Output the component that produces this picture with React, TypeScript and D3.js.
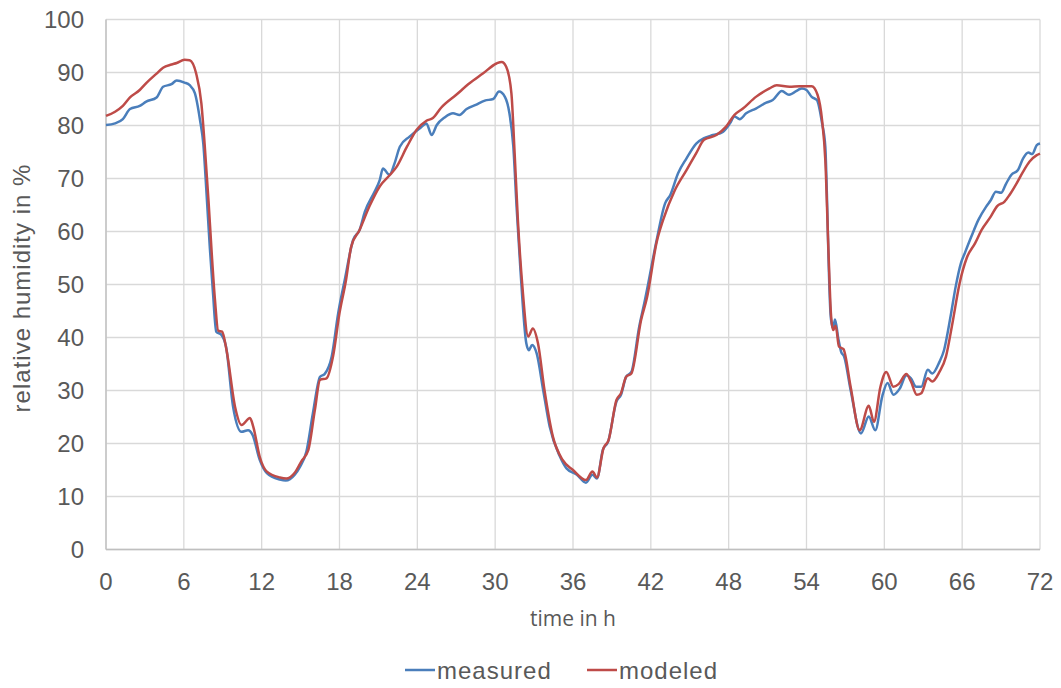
import React from "react";
import * as d3 from "d3";

const measuredT = [0, 0.7, 1.3, 1.85, 2.6, 3.1, 3.9, 4.4, 5.05, 5.45, 6.05, 6.45, 6.85, 7.25, 7.5, 7.75, 8.0, 8.25, 8.5, 8.9, 9.25, 9.8, 10.45, 10.95, 11.3, 11.85, 12.4, 13.4, 13.85, 14.55, 14.95, 15.45, 15.95, 16.5, 16.85, 17.4, 17.9, 18.4, 19.05, 19.55, 19.95, 20.7, 21.1, 21.35, 21.85, 22.25, 22.65, 23.4, 24.2, 24.7, 25.1, 25.5, 26.1, 26.75, 27.25, 27.8, 28.5, 29.2, 29.85, 30.3, 30.75, 31.1, 31.4, 31.65, 31.95, 32.4, 32.6, 32.85, 33.2, 33.7, 34.2, 35.0, 35.5, 36.3, 37.0, 37.5, 37.85, 38.3, 38.7, 39.35, 39.7, 40.1, 40.5, 41.1, 41.55, 41.8, 42.45, 43.1, 43.5, 44.1, 44.75, 45.5, 46.1, 46.8, 47.55, 48.1, 48.45, 48.85, 49.35, 50.1, 50.9, 51.4, 52.1, 52.65, 53.65, 54.0, 54.4, 54.8, 55.2, 55.45, 55.57, 55.7, 55.85, 55.95, 56.05, 56.2, 56.45, 56.67, 56.9, 57.4, 58.2, 58.8, 59.3, 59.85, 60.25, 60.7, 61.2, 61.7, 62.05, 62.45, 62.85, 63.35, 63.7, 64.25, 64.6, 65.1, 65.5, 65.9, 66.2, 66.7, 67.25, 67.85, 68.2, 68.6, 69.0, 69.4, 69.8, 70.3, 70.7, 71.1, 71.4, 71.75, 72];
const measuredV = [80.1, 80.4, 81.2, 83.1, 83.7, 84.5, 85.3, 87.3, 87.8, 88.5, 88.1, 87.6, 86.1, 81.0, 76.6, 67.2, 57.1, 48.3, 41.1, 40.5, 38.3, 26.9, 22.2, 22.5, 21.6, 16.9, 14.4, 13.2, 13.0, 14.1, 15.6, 18.5, 25.7, 32.6, 33.1, 36.4, 44.6, 50.8, 58.4, 60.3, 63.7, 67.5, 69.7, 71.9, 70.7, 72.9, 76.0, 77.9, 79.5, 80.4, 78.2, 80.1, 81.5, 82.3, 82.0, 83.1, 83.9, 84.7, 85.0, 86.4, 85.4, 82.3, 76.0, 64.7, 52.7, 38.9, 37.6, 38.6, 37.0, 30.1, 23.2, 17.5, 15.3, 14.1, 12.6, 14.1, 13.4, 18.8, 20.3, 27.9, 29.2, 32.6, 33.5, 42.0, 47.1, 50.2, 58.4, 65.3, 66.9, 71.0, 73.8, 76.6, 77.6, 78.2, 78.8, 80.4, 81.7, 81.2, 82.3, 83.2, 84.3, 84.8, 86.5, 85.8, 87.0, 86.7, 85.4, 84.8, 80.4, 76.0, 67.2, 54.6, 44.5, 42.5, 41.8, 43.4, 39.8, 37.3, 36.4, 30.1, 21.9, 25.1, 22.5, 29.0, 31.4, 29.2, 30.4, 32.9, 32.3, 30.7, 30.7, 33.9, 33.2, 35.4, 37.6, 43.9, 49.6, 54.0, 55.9, 59.0, 62.2, 64.7, 65.9, 67.5, 67.3, 69.1, 70.7, 71.6, 73.8, 74.9, 74.6, 76.3, 76.6];

const modeledT = [0, 0.7, 1.3, 1.85, 2.6, 3.1, 3.9, 4.4, 5.05, 5.45, 6.05, 6.45, 6.95, 7.35, 7.6, 7.9, 8.15, 8.4, 8.65, 8.95, 9.3, 9.95, 10.45, 11.1, 11.35, 11.85, 12.4, 13.4, 13.9, 14.55, 15.05, 15.6, 16.1, 16.5, 17.0, 17.5, 18.0, 18.5, 18.9, 19.55, 20.3, 21.1, 21.9, 22.4, 23.2, 23.95, 24.7, 25.2, 25.85, 27.0, 28.05, 29.05, 30.1, 30.5, 30.85, 31.25, 31.5, 31.75, 32.1, 32.55, 32.9, 33.3, 33.8, 34.45, 35.2, 36.0, 37.0, 37.5, 37.85, 38.35, 38.75, 39.35, 39.7, 40.1, 40.5, 41.25, 41.7, 42.45, 42.95, 43.85, 44.75, 45.5, 46.1, 47.05, 47.8, 48.45, 49.1, 50.1, 51.15, 51.7, 52.7, 53.45, 54.4, 54.85, 55.2, 55.45, 55.7, 55.88, 56.05, 56.25, 56.5, 56.85, 57.4, 58.1, 58.8, 59.2, 59.7, 60.15, 60.7, 61.1, 61.7, 62.05, 62.5, 62.85, 63.35, 63.7, 64.25, 64.75, 65.25, 65.8, 66.35, 67.0, 67.5, 68.2, 68.7, 69.25, 69.65, 70.2, 70.7, 71.2, 71.75, 72];
const modeledV = [81.8, 82.6, 83.7, 85.3, 86.7, 88.0, 89.8, 90.9, 91.5, 91.8, 92.4, 92.3, 89.8, 84.2, 76.6, 65.9, 55.9, 47.1, 41.3, 41.1, 37.5, 26.9, 23.5, 24.8, 23.2, 17.5, 14.7, 13.6, 13.4, 14.5, 16.6, 18.8, 26.3, 32.0, 32.3, 36.4, 44.6, 50.8, 57.1, 60.3, 64.7, 68.5, 70.7, 72.2, 76.0, 79.2, 80.9, 81.4, 83.4, 85.8, 88.0, 89.8, 91.7, 92.0, 91.1, 86.1, 74.8, 62.2, 49.6, 40.2, 41.7, 38.9, 30.1, 21.3, 16.9, 15.0, 13.1, 14.7, 13.6, 19.1, 20.7, 28.2, 29.5, 32.6, 33.2, 43.3, 47.5, 58.0, 62.2, 67.8, 71.6, 74.8, 77.3, 78.2, 79.8, 82.0, 83.2, 85.4, 87.0, 87.6, 87.3, 87.4, 87.4, 85.8, 81.0, 73.5, 55.9, 44.6, 41.4, 42.2, 38.3, 37.8, 30.7, 22.5, 27.1, 24.1, 30.7, 33.5, 30.7, 31.2, 33.1, 31.7, 29.2, 29.5, 32.3, 31.7, 33.5, 36.4, 42.7, 50.2, 55.0, 57.8, 60.3, 62.8, 64.8, 65.6, 66.9, 69.1, 71.3, 73.2, 74.4, 74.7];

const xTicks = [0, 6, 12, 18, 24, 30, 36, 42, 48, 54, 60, 66, 72];
const yTicks = [0, 10, 20, 30, 40, 50, 60, 70, 80, 90, 100];

const seriesNames = ["measured", "modeled"];
const seriesColors = ["#4A7EBB", "#BE4B48"];

export default function App() {
  const W = 1061;
  const H = 688;
  const x = d3.scaleLinear().domain([0, 72]).range([106, 1040]);
  const y = d3.scaleLinear().domain([0, 100]).range([549.5, 19.5]);

  const line = d3
    .line<[number, number]>()
    .x((d) => x(d[0]))
    .y((d) => y(d[1]))
    .curve(d3.curveMonotoneX);

  const measured: [number, number][] = measuredT.map((t, i) => [t, measuredV[i]]);
  const modeled: [number, number][] = modeledT.map((t, i) => [t, modeledV[i]]);
  const series = [measured, modeled];

  const textColor = "#595959";
  const font = "'Liberation Sans', Arial, sans-serif";

  return (
    <svg
      width={W}
      height={H}
      viewBox={`0 0 ${W} ${H}`}
      style={{ position: "absolute", left: 0, top: 0, background: "#fff" }}
    >
      <rect x={0} y={0} width={W} height={H} fill="#fff" />
      {/* horizontal gridlines */}
      {yTicks.map((v) => (
        <line
          key={"gy" + v}
          x1={x(0)}
          x2={x(72)}
          y1={y(v)}
          y2={y(v)}
          stroke="#D9D9D9"
          strokeWidth={1.3}
        />
      ))}
      {/* vertical gridlines */}
      {xTicks.map((t) => (
        <line
          key={"gx" + t}
          x1={x(t)}
          x2={x(t)}
          y1={y(0)}
          y2={y(100)}
          stroke="#D9D9D9"
          strokeWidth={1.3}
        />
      ))}
      {/* axes */}
      <line x1={x(0)} x2={x(0)} y1={y(0)} y2={y(100)} stroke="#BFBFBF" strokeWidth={1.3} />
      <line x1={x(0)} x2={x(72)} y1={y(0)} y2={y(0)} stroke="#BFBFBF" strokeWidth={1.3} />

      {/* y tick labels */}
      {yTicks.map((v) => (
        <text
          key={"ty" + v}
          x={84}
          y={y(v)}
          dy="0.36em"
          textAnchor="end"
          fontFamily={font}
          fontSize={24}
          fill={textColor}
        >
          {v}
        </text>
      ))}
      {/* x tick labels */}
      {xTicks.map((t) => (
        <text
          key={"tx" + t}
          x={x(t)}
          y={590}
          textAnchor="middle"
          fontFamily={font}
          fontSize={24}
          fill={textColor}
        >
          {t}
        </text>
      ))}

      {/* axis titles */}
      <text
        x={573}
        y={626}
        textAnchor="middle"
        fontFamily="'Open Sans', sans-serif"
        fontSize={21}
        fill={textColor}
      >
        time in h
      </text>
      <text
        transform={`translate(30, ${288}) rotate(-90)`}
        textAnchor="middle"
        fontFamily={font}
        fontSize={24}
        letterSpacing={1}
        fill={textColor}
      >
        relative humidity in %
      </text>

      {/* series */}
      {series.map((s, i) => (
        <path
          key={"s" + i}
          d={line(s) || ""}
          fill="none"
          stroke={seriesColors[i]}
          strokeWidth={2.5}
          strokeLinejoin="round"
        />
      ))}

      {/* legend */}
      {seriesNames.map((name, i) => {
        const lx = i === 0 ? 405 : 587;
        return (
          <g key={"lg" + i}>
            <line x1={lx} x2={lx + 30} y1={670} y2={670} stroke={seriesColors[i]} strokeWidth={2.5} />
            <text
              x={lx + 32}
              y={679}
              fontFamily={font}
              fontSize={24}
              letterSpacing={1}
              fill={textColor}
            >
              {name}
            </text>
          </g>
        );
      })}
    </svg>
  );
}
